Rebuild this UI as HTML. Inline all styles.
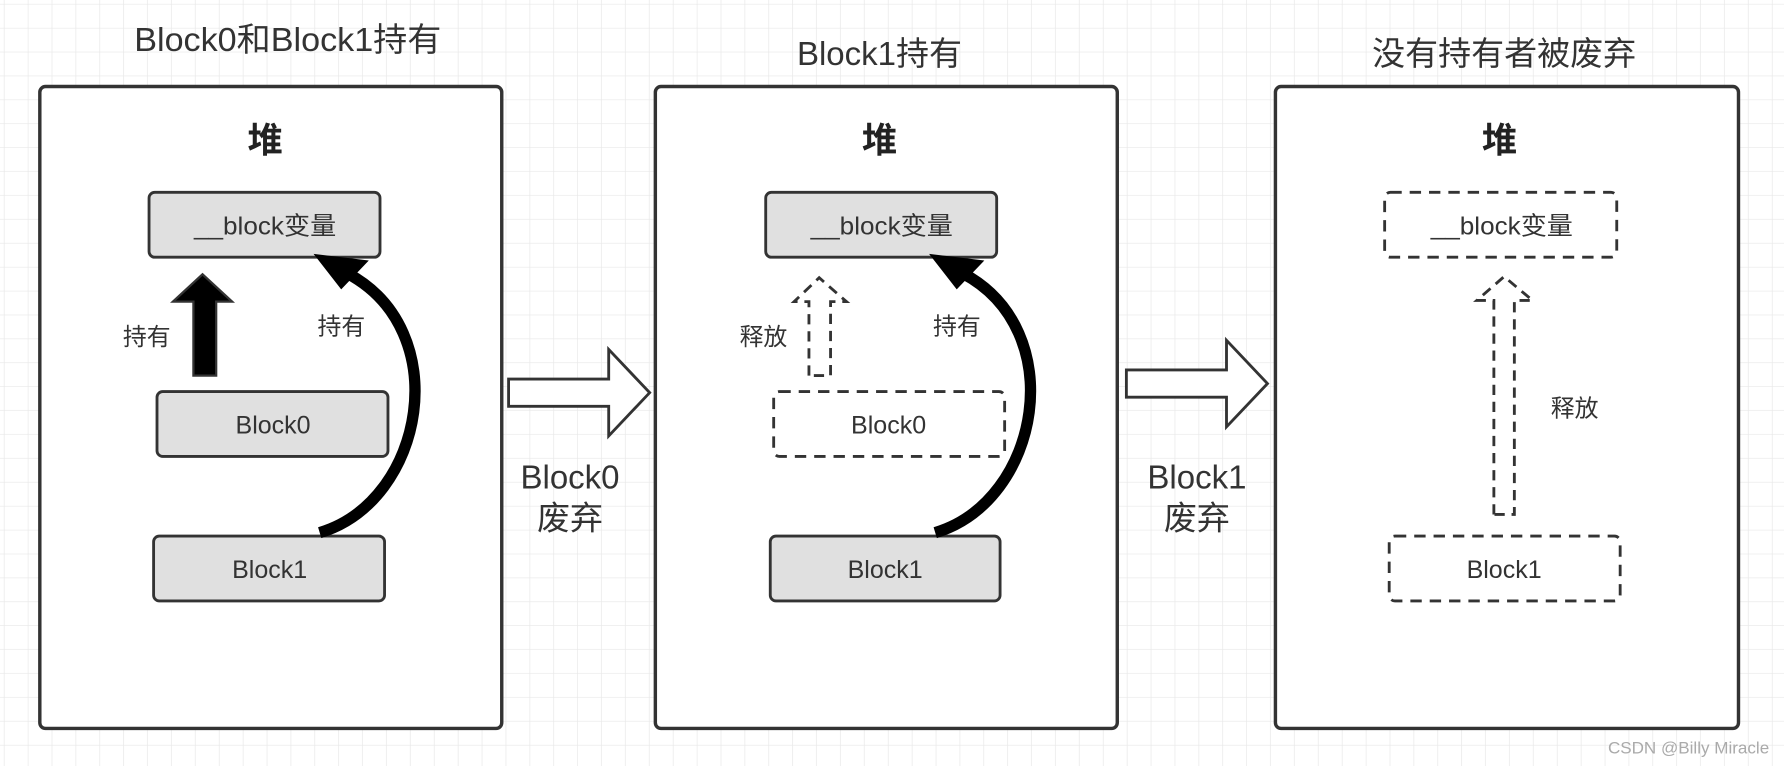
<!DOCTYPE html>
<html><head><meta charset="utf-8"><style>
html,body{margin:0;padding:0;background:#fff}
svg{display:block}
text{font-family:"Liberation Sans","Noto Sans CJK SC",sans-serif;fill:#333}
</style></head><body>
<svg width="1784" height="766" viewBox="0 0 1568 673" preserveAspectRatio="none" xmlns="http://www.w3.org/2000/svg">
<defs>
<pattern id="g" width="21" height="21" patternUnits="userSpaceOnUse" x="4" y="4">
<path d="M21 0V21H0" fill="none" stroke="#e8e8e8" stroke-width="1.2"/>
</pattern>
</defs>
<rect width="1568" height="673" fill="url(#g)"/>
<g text-anchor="middle">
<text x="253" y="45" font-size="29" textLength="270" lengthAdjust="spacingAndGlyphs">Block0和Block1持有</text>
<text x="773" y="57" font-size="29">Block1持有</text>
<text x="1322" y="57" font-size="29">没有持有者被废弃</text>
</g>
<g fill="#fff" stroke="#333" stroke-width="3">
<rect x="35" y="76" width="406" height="564" rx="5"/>
<rect x="576" y="76" width="406" height="564" rx="5"/>
<rect x="1121" y="76" width="407" height="564" rx="5"/>
</g>
<g text-anchor="middle" font-size="31" font-weight="bold">
<text x="233" y="134" style="fill:#222">堆</text>
<text x="773" y="134" style="fill:#222">堆</text>
<text x="1318" y="134" style="fill:#222">堆</text>
</g>
<g stroke="#333" stroke-width="2.5">
<rect x="131" y="169" width="203" height="57" rx="5" fill="#e0e0e0"/>
<rect x="138" y="344" width="203" height="57" rx="5" fill="#e0e0e0"/>
<rect x="135" y="471" width="203" height="57" rx="5" fill="#e0e0e0"/>
<rect x="673" y="169" width="203" height="57" rx="5" fill="#e0e0e0"/>
<rect x="680" y="344" width="203" height="57" rx="5" fill="#fff" stroke-dasharray="10 7"/>
<rect x="677" y="471" width="202" height="57" rx="5" fill="#e0e0e0"/>
<rect x="1217" y="169" width="204" height="57" rx="5" fill="#fff" stroke-dasharray="10 7"/>
<rect x="1221" y="471" width="203" height="57" rx="5" fill="#fff" stroke-dasharray="10 7"/>
</g>
<g text-anchor="middle" font-size="22">
<text x="233" y="206" textLength="125" lengthAdjust="spacingAndGlyphs">__block变量</text>
<text x="240" y="381">Block0</text>
<text x="237" y="508">Block1</text>
<text x="775" y="206" textLength="125" lengthAdjust="spacingAndGlyphs">__block变量</text>
<text x="781" y="381">Block0</text>
<text x="778" y="508">Block1</text>
<text x="1320" y="206" textLength="125" lengthAdjust="spacingAndGlyphs">__block变量</text>
<text x="1322" y="508">Block1</text>
</g>
<path d="M170 330V265H152L178 241L204 265H190V330Z" fill="#000" stroke="#333" stroke-width="2"/>
<text x="129" y="303" font-size="21" text-anchor="middle">持有</text>
<path d="M281 468C374 440 400 290 305 240" fill="none" stroke="#000" stroke-width="10"/>
<path d="M279 225L321 230L300 252Z" fill="#000" stroke="#000" stroke-width="3"/>
<text x="300" y="294" font-size="21" text-anchor="middle">持有</text>
<path d="M822 468C915 440 941 290 846 240" fill="none" stroke="#000" stroke-width="10"/>
<path d="M820 225L862 230L841 252Z" fill="#000" stroke="#000" stroke-width="3"/>
<text x="841" y="294" font-size="21" text-anchor="middle">持有</text>
<path d="M711 330V265H698L720 244L744 265H730V330Z" fill="#fff" stroke="#333" stroke-width="2.5" stroke-dasharray="9 6"/>
<text x="671" y="303" font-size="21" text-anchor="middle">释放</text>
<path d="M1313 452V264H1298L1322 243L1347 264H1331V452Z" fill="#fff" stroke="#333" stroke-width="2.5" stroke-dasharray="9 6"/>
<text x="1384" y="366" font-size="21" text-anchor="middle">释放</text>
<path d="M447 333H535V307L571 345L535 383V357H447Z" fill="#fff" stroke="#333" stroke-width="2.5"/>
<path d="M990 325H1078V299L1114 337L1078 375V349H990Z" fill="#fff" stroke="#333" stroke-width="2.5"/>
<g text-anchor="middle" font-size="29">
<text x="501" y="429">Block0</text>
<text x="501" y="465">废弃</text>
<text x="1052" y="429">Block1</text>
<text x="1052" y="465">废弃</text>
</g>
<text x="1555" y="662" font-size="15" text-anchor="end" style="fill:#aaa">CSDN @Billy Miracle</text>
</svg>
</body></html>
